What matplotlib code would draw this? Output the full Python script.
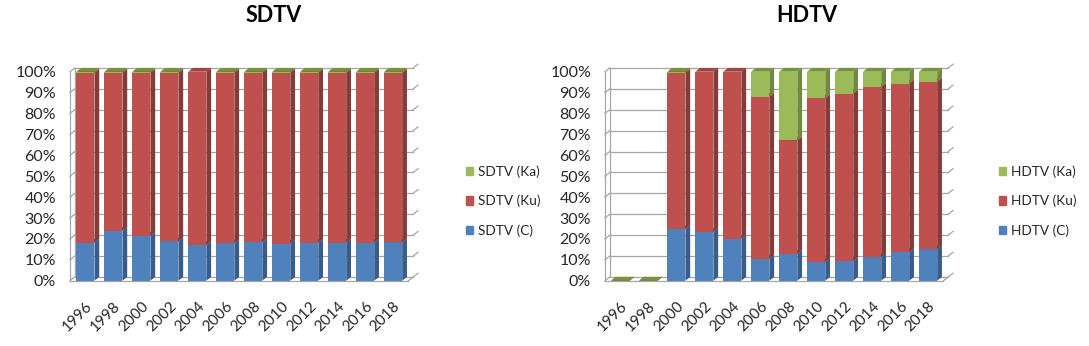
import matplotlib
matplotlib.use('Agg')
import matplotlib.pyplot as plt
from matplotlib.patches import Polygon, Patch

plt.rcParams['font.family'] = ['Lato', 'DejaVu Sans']

# --- データ (%) ---
years = ['1996', '1998', '2000', '2002', '2004', '2006', '2008', '2010', '2012', '2014', '2016', '2018']

sd_c = [18.2, 23.9, 21.5, 18.8, 17.1, 17.9, 18.5, 17.7, 18.2, 18.2, 18.2, 18.3]
sd_ku = [81.3, 75.6, 78.0, 80.7, 82.9, 81.6, 81.0, 81.8, 81.3, 81.3, 81.3, 81.2]
sd_ka = [0.5, 0.5, 0.5, 0.5, 0.0, 0.5, 0.5, 0.5, 0.5, 0.5, 0.5, 0.5]

hd_c = [0, 0, 24.7, 23.3, 20.1, 10.5, 12.8, 8.9, 9.4, 11.2, 13.7, 15.0]
hd_ku = [0, 0, 74.8, 76.7, 79.9, 77.5, 54.3, 78.5, 80.1, 81.5, 80.6, 80.2]
hd_ka = [0, 0, 0.5, 0.0, 0.0, 12.0, 32.9, 12.6, 10.5, 7.3, 5.7, 4.8]

# 色 (前面, 側面, 上面)
C_COL = ('#4F81BD', '#385D8A', '#4A72A6')
KU_COL = ('#C0504D', '#843C39', '#9E4441')
KA_COL = ('#9BBB59', '#71893F', '#77933C')

W = 0.65    # 棒の幅
DX = 0.17   # 奥行き (x)
DY = 1.8    # 奥行き (y)
X0, X1 = -0.55, 11.55


def bar3d(ax, x, bottom, h, cols, total):
    face, side, top = cols
    if h == 0 and total > 0:
        return
    xl, xr = x - W / 2, x + W / 2
    t = bottom + h
    if h > 0:
        ax.bar(x, h, bottom=bottom, width=W, color=face, linewidth=0, zorder=3)
        ax.add_patch(Polygon([(xr, bottom), (xr + DX, bottom + DY), (xr + DX, t + DY), (xr, t)],
                             closed=True, color=side, lw=0, zorder=3, clip_on=False))
    ax.add_patch(Polygon([(xl, t), (xl + DX, t + DY), (xr + DX, t + DY), (xr, t)],
                         closed=True, color=top, lw=0, zorder=3, clip_on=False))


def draw_panel(ax, c, ku, ka):
    grid_c = '#A6A6A6'
    for v in range(0, 101, 10):
        ax.plot([X0 + DX, X1 + DX], [v + DY, v + DY], color=grid_c, lw=0.9, zorder=1, clip_on=False)
        ax.plot([X0, X0 + DX], [v, v + DY], color=grid_c, lw=0.9, zorder=1, clip_on=False)
        ax.plot([X1 + DX, X1 + 2 * DX], [v + DY, v + 2 * DY], color=grid_c, lw=0.9, zorder=1, clip_on=False)
    ax.plot([X0, X0], [0, 100], color=grid_c, lw=0.9, zorder=1, clip_on=False)
    ax.plot([X0 + DX, X0 + DX], [DY, 100 + DY], color=grid_c, lw=0.9, zorder=1, clip_on=False)
    ax.plot([X0, X1], [0, 0], color=grid_c, lw=0.9, zorder=2, clip_on=False)
    ax.plot([X1, X1 + DX], [0, DY], color=grid_c, lw=0.9, zorder=2, clip_on=False)

    for i in range(len(years)):
        total = c[i] + ku[i] + ka[i]
        bar3d(ax, i, 0, c[i], C_COL, total)
        bar3d(ax, i, c[i], ku[i], KU_COL, total)
        bar3d(ax, i, c[i] + ku[i], ka[i], KA_COL, 1 if total > 0 else 0)

    ax.set_xlim(X0, X1 + 2 * DX)
    ax.set_ylim(0, 100)
    ax.set_yticks(range(0, 101, 10))
    ax.set_yticklabels([f'{v}%' for v in range(0, 101, 10)], fontsize=11.5, color='#262626')
    ax.set_xticks(range(len(years)))
    ax.set_xticklabels(years, rotation=45, ha='right', rotation_mode='anchor',
                       fontsize=11, color='#262626')
    ax.tick_params(axis='both', length=0)
    ax.tick_params(axis='x', pad=13)
    ax.tick_params(axis='y', pad=10)
    for s in ax.spines.values():
        s.set_visible(False)


fig = plt.figure(figsize=(10.89, 3.46), dpi=100)
ax1 = fig.add_axes([70 / 1089, 65.3 / 346, 348 / 1089, 209 / 346])
ax2 = fig.add_axes([605 / 1089, 65.3 / 346, 348 / 1089, 209 / 346])

draw_panel(ax1, sd_c, sd_ku, sd_ka)
draw_panel(ax2, hd_c, hd_ku, hd_ka)

fig.text(274 / 1089, 1 - 16 / 346, 'SDTV', ha='center', va='center',
         fontsize=15.5, fontweight='bold', color='black')
fig.text(807 / 1089, 1 - 16 / 346, 'HDTV', ha='center', va='center',
         fontsize=15.5, fontweight='bold', color='black')

handles = [Patch(color=KA_COL[0]), Patch(color=KU_COL[0]), Patch(color=C_COL[0])]
leg_kw = dict(loc='center left', frameon=False, handlelength=0.55, handleheight=0.55,
              handletextpad=0.35, labelspacing=1.25, fontsize=9.8, labelcolor='#262626',
              borderaxespad=0, borderpad=0)
fig.legend(handles, ['SDTV (Ka)', 'SDTV (Ku)', 'SDTV (C)'],
           bbox_to_anchor=(466 / 1089, 1 - 201 / 346), **leg_kw)
fig.legend(handles, ['HDTV (Ka)', 'HDTV (Ku)', 'HDTV (C)'],
           bbox_to_anchor=(999 / 1089, 1 - 201 / 346), **leg_kw)

fig.savefig('out.png', dpi=100)
